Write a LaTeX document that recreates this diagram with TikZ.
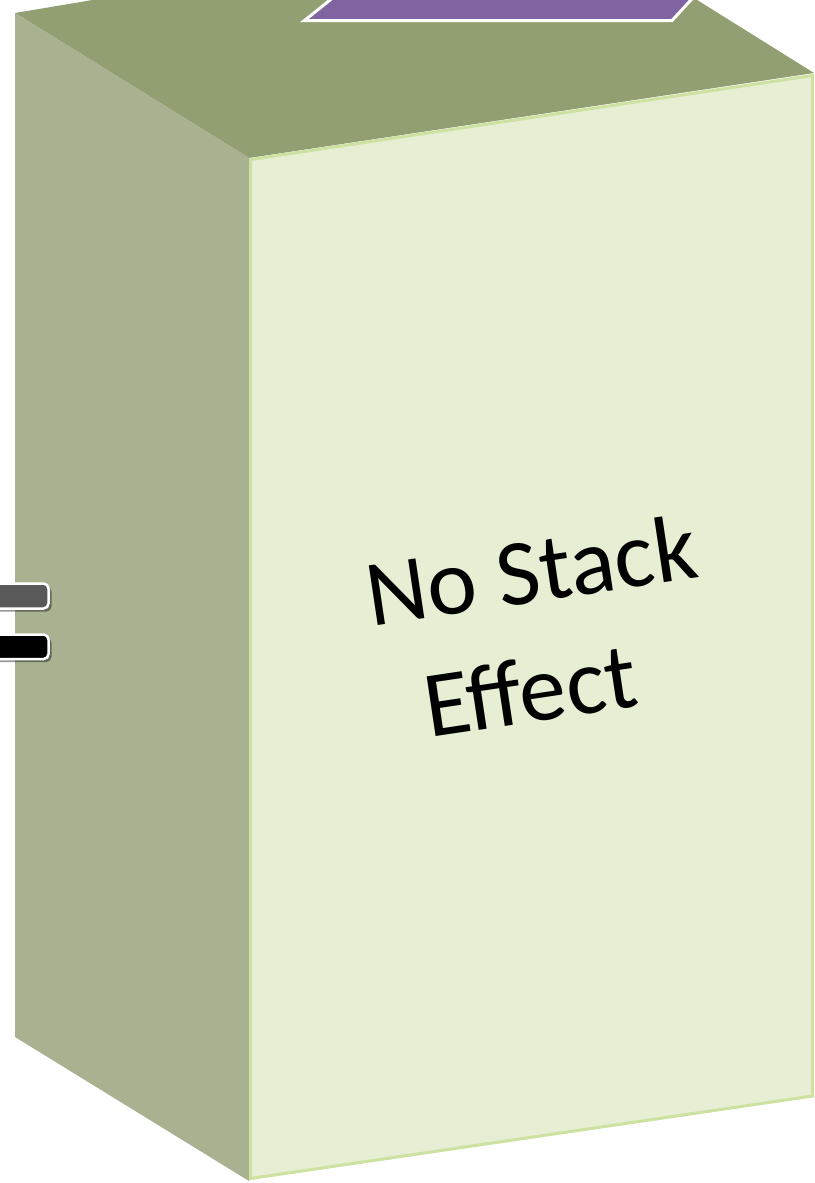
\documentclass[tikz,border=0pt]{standalone}
\usepackage{fontspec}
\setmainfont{Carlito}
\usetikzlibrary{shadows}
\definecolor{topface}{RGB}{146,159,114}
\definecolor{leftface}{RGB}{168,178,145}
\definecolor{frontface}{RGB}{230,239,211}
\definecolor{frontedge}{RGB}{205,225,160}
\definecolor{purp}{RGB}{128,100,162}
\definecolor{bargray}{RGB}{89,89,89}
\begin{document}
\begin{tikzpicture}[x=1pt,y=-1pt,
  facetop/.style={fill=topface},
  faceleft/.style={fill=leftface},
  facefront/.style={fill=frontface, draw=frontedge, line width=3pt, line join=miter},
  purpleface/.style={fill=purp, draw=white, line width=3pt, line join=miter},
  bar/.style={draw=white, line width=2.5pt, rounded corners=5pt,
    drop shadow={shadow xshift=3pt, shadow yshift=-3pt, opacity=0.4, fill=black}},
  label/.style={font=\fontsize{94}{114}\selectfont, text=black, rotate=8.5, anchor=base, inner sep=0pt}]
\useasboundingbox (0,0) rectangle (814,1183);
\clip (0,0) rectangle (814,1183);
% cube faces
\fill[facetop] (15,13) -- (569,-80) -- (814,73) -- (249,158) -- cycle;
\fill[faceleft] (15,13) -- (249,158) -- (249,1181) -- (15,1037) -- cycle;
\filldraw[facefront] (250.5,159.5) -- (812.5,75.5) -- (812.5,1096) -- (250.5,1178.5) -- cycle;
% purple shape on top
\filldraw[purpleface] (304.5,20.5) -- (672,20.5) -- (702,-12) -- (345,-12) -- cycle;
% bars on the left
\filldraw[bar, fill=bargray] (-20,583.5) rectangle (48.5,608.5);
\filldraw[bar, fill=black] (-20,634.5) rectangle (48.5,659);
% text
\node[label] (l1) at (536,602) {No Stack};
\node[label] (l2) at (535,722) {Effect};
\end{tikzpicture}
\end{document}
